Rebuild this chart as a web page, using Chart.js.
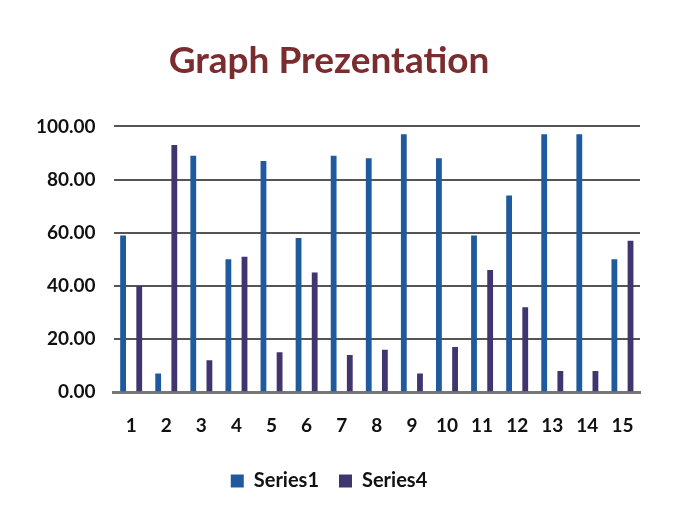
<!DOCTYPE html>
<html>
<head>
<meta charset="utf-8">
<script src="https://cdn.jsdelivr.net/npm/chart.js@4"></script>
<style>
  html, body { margin: 0; padding: 0; background: #ffffff; }
  #wrap { width: 676px; height: 515px; position: relative; }
</style>
</head>
<body>
<div id="wrap"><canvas id="myChart" width="676" height="515"></canvas></div>
<script>
const categories = ["1", "2", "3", "4", "5", "6", "7", "8", "9", "10", "11", "12", "13", "14", "15"];
const series1 = [59, 7, 89, 50, 87, 58, 89, 88, 97, 88, 59, 74, 97, 97, 50];
const series4 = [40, 93, 12, 51, 15, 45, 14, 16, 7, 17, 46, 32, 8, 8, 57];
const yTicks = [0, 20, 40, 60, 80, 100];

const ctx = document.getElementById("myChart").getContext("2d");
new Chart(ctx, {
    type: "bar",
    data: {
        labels: categories,
        datasets: [
            {
                label: "Series1",
                data: series1,
                backgroundColor: "#1f5a9e" // blue
            },
            {
                label: "Series4",
                data: series4,
                backgroundColor: "#40356f" // purple
            }
        ]
    },
    options: {
        responsive: false,
        animation: false,
        categoryPercentage: 0.92,
        barPercentage: 0.36,
        layout: {padding: {left: 18, right: 36, top: 18, bottom: 14}},
        plugins: {
            title: {
                display: true,
                text: "Graph Prezentation",
                color: "#7a2c2e",
                font: {family: "Lato", size: 37, weight: "bold"},
                padding: {top: 21, bottom: 43}
            },
            legend: {
                position: "bottom",
                labels: {
                    color: "#111111",
                    font: {family: "Lato", size: 20, weight: "bold"},
                    boxWidth: 13,
                    boxHeight: 13,
                    padding: 20
                }
            },
            tooltip: {enabled: false}
        },
        scales: {
            y: {
                min: 0,
                max: 100,
                afterBuildTicks: (axis) => { axis.ticks = yTicks.map(v => ({value: v})); },
                ticks: {
                    callback: (value) => Number(value).toFixed(2),
                    color: "#111111",
                    font: {family: "Lato", size: 19, weight: "bold"},
                    padding: 18
                },
                grid: {color: "#555555", lineWidth: 2, drawTicks: false},
                border: {display: false}
            },
            x: {
                ticks: {
                    color: "#111111",
                    font: {family: "Lato", size: 19, weight: "bold"},
                    padding: 14
                },
                grid: {display: false},
                border: {display: true, color: "#777777", width: 3}
            }
        }
    }
});
</script>
</body>
</html>
